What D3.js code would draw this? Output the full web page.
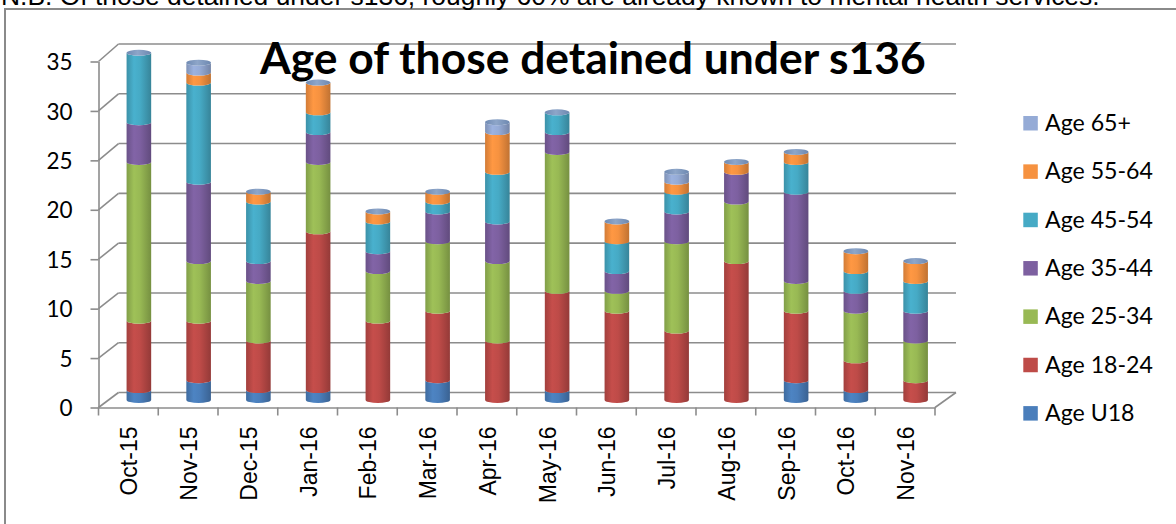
<!DOCTYPE html>
<html>
<head>
<meta charset="utf-8">
<script src="https://cdn.jsdelivr.net/npm/d3@7"></script>
<style>
  body { margin: 0; background: #fff; }
  svg { display: block; }
</style>
</head>
<body>
<svg id="chart" width="1176" height="524"></svg>
<script>
// Monthly counts of people detained under s136, split by age band
const months = ["Oct-15","Nov-15","Dec-15","Jan-16","Feb-16","Mar-16","Apr-16","May-16","Jun-16","Jul-16","Aug-16","Sep-16","Oct-16","Nov-16"];
const ageU18    = [1, 2, 1, 1, 0, 2, 0, 1, 0, 0, 0, 2, 1, 0];
const age18to24 = [7, 6, 5, 16, 8, 7, 6, 10, 9, 7, 14, 7, 3, 2];
const age25to34 = [16, 6, 6, 7, 5, 7, 8, 14, 2, 9, 6, 3, 5, 4];
const age35to44 = [4, 8, 2, 3, 2, 3, 4, 2, 2, 3, 3, 9, 2, 3];
const age45to54 = [7, 10, 6, 2, 3, 1, 5, 2, 3, 2, 0, 3, 2, 3];
const age55to64 = [0, 1, 1, 3, 1, 1, 4, 0, 2, 1, 1, 1, 2, 2];
const age65plus = [0, 1, 0, 0, 0, 0, 1, 0, 0, 1, 0, 0, 0, 0];
const seriesNames  = ["Age U18", "Age 18-24", "Age 25-34", "Age 35-44", "Age 45-54", "Age 55-64", "Age 65+"];
const seriesValues = [ageU18, age18to24, age25to34, age35to44, age45to54, age55to64, age65plus];
const seriesColors = ["#4A7EBB", "#BE4B48", "#98B954", "#7D60A0", "#46AAC5", "#F69240", "#95ABD6"];
const yTicks = [0, 5, 10, 15, 20, 25, 30, 35];
const titleText = "Age of those detained under s136";
const noteText = "N.B. Of those detained under s136, roughly 60% are already known to mental health services.";

// table for d3.stack
const rows = months.map((m, i) => {
  const r = { month: m };
  seriesNames.forEach((s, k) => { r[s] = seriesValues[k][i]; });
  return r;
});
const stacked = d3.stack().keys(seriesNames)(rows);

const svg = d3.select("#chart");
const defs = svg.append("defs");

// ---- geometry of the 3D box ----
const frontX0 = 98.5, frontX1 = 935, depthDX = 21;
const x = d3.scaleBand().domain(months).range([frontX0, frontX1]);
const yFront = d3.scaleLinear().domain([0, 35]).range([407.5, 61.5]);
const yBack  = d3.scaleLinear().domain([0, 35]).range([392.5, 44]);
const yMid = v => (yFront(v) + yBack(v)) / 2;
const gridColor = "#8c8c8c";

// outer frame
svg.append("rect")
  .attr("x", 5).attr("y", 9).attr("width", 1200).attr("height", 600)
  .attr("fill", "none").attr("stroke", "#8a8a8a").attr("stroke-width", 2);

// note line above the frame
const note = svg.append("text")
  .attr("x", 1).attr("y", 4.5)
  .attr("font-family", "Liberation Sans, Arial, sans-serif")
  .attr("font-size", 24).attr("fill", "#000")
  .text(noteText);
{
  const w = note.node().getComputedTextLength();
  note.attr("font-size", 24 * 1099 / w);
}

// back-wall gridlines and side-wall slants
const grid = svg.append("g").attr("stroke", gridColor).attr("stroke-width", 1.6).attr("fill", "none");
yTicks.forEach(t => {
  grid.append("line")
    .attr("x1", frontX0 + depthDX - 1).attr("y1", yBack(t))
    .attr("x2", frontX1 + depthDX).attr("y2", yBack(t));
  grid.append("line")
    .attr("x1", frontX0).attr("y1", yFront(t))
    .attr("x2", frontX0 + depthDX - 1).attr("y2", yBack(t));
});
// floor: right edge slant
grid.append("line")
  .attr("x1", frontX1).attr("y1", yFront(0))
  .attr("x2", frontX1 + depthDX).attr("y2", yBack(0));

// y axis on the front edge
const yAxisG = svg.append("g")
  .attr("transform", `translate(${frontX0},0)`)
  .call(d3.axisLeft(yFront).tickValues(yTicks).tickSize(8).tickSizeOuter(0).tickPadding(18));
yAxisG.select(".domain").attr("stroke", gridColor).attr("stroke-width", 1.6);
yAxisG.selectAll(".tick line").attr("stroke", gridColor).attr("stroke-width", 1.6);
yAxisG.selectAll(".tick text")
  .attr("font-family", "Lato, Carlito, sans-serif")
  .attr("font-size", 22.5).attr("fill", "#000")
  .attr("dy", "0.36em");

// x axis on the front floor edge
const xAxisG = svg.append("g")
  .attr("transform", `translate(0,${yFront(0)})`)
  .call(d3.axisBottom(x).tickSize(0).tickSizeOuter(0));
xAxisG.select(".domain").attr("stroke", gridColor).attr("stroke-width", 1.6);
xAxisG.selectAll(".tick text")
  .attr("font-family", "Liberation Sans, Arial, sans-serif")
  .attr("font-size", 23).attr("fill", "#000")
  .attr("text-anchor", "end")
  .attr("transform", "rotate(-90)")
  .attr("x", -19).attr("y", 1).attr("dy", "0.35em");
// category separator ticks
const sepG = svg.append("g").attr("stroke", gridColor).attr("stroke-width", 1.6);
months.concat([null]).forEach((m, i) => {
  const xp = m === null ? x.range()[1] : x(m);
  sepG.append("line")
    .attr("x1", xp).attr("x2", xp)
    .attr("y1", yFront(0)).attr("y2", yFront(0) + 8);
});

// ---- cylinder shading ----
seriesNames.forEach((s, k) => {
  const c = d3.color(seriesColors[k]);
  const g = defs.append("linearGradient").attr("id", "cyl" + k)
    .attr("x1", 0).attr("x2", 1).attr("y1", 0).attr("y2", 0);
  g.append("stop").attr("offset", "0%").attr("stop-color", c.darker(0.45));
  g.append("stop").attr("offset", "30%").attr("stop-color", c.brighter(0.12));
  g.append("stop").attr("offset", "55%").attr("stop-color", c);
  g.append("stop").attr("offset", "100%").attr("stop-color", c.darker(0.7));
});
const capGrad = defs.append("linearGradient").attr("id", "capGrad")
  .attr("x1", 0).attr("x2", 1).attr("y1", 0).attr("y2", 0);
capGrad.append("stop").attr("offset", "0%").attr("stop-color", "#6f8ab3");
capGrad.append("stop").attr("offset", "45%").attr("stop-color", "#8ea6c9");
capGrad.append("stop").attr("offset", "100%").attr("stop-color", "#6d88b0");

const r = 12.3, ry = 3;
const cxOf = m => x(m) + x.bandwidth() / 2 + depthDX / 2;
function segPath(cx, v0, v1) {
  const yt = yMid(v1), yb = yMid(v0);
  return `M${cx - r},${yt} L${cx - r},${yb} A${r},${ry} 0 0 0 ${cx + r},${yb} ` +
         `L${cx + r},${yt} A${r},${ry} 0 0 1 ${cx - r},${yt} Z`;
}

const bars = svg.append("g");
stacked.forEach((layer, k) => {
  bars.append("g")
    .selectAll("path")
    .data(layer.filter(d => d[1] > d[0]))
    .join("path")
    .attr("d", d => segPath(cxOf(d.data.month), d[0], d[1]))
    .attr("fill", `url(#cyl${k})`);
});
// top caps
const totals = rows.map(rw => ({ month: rw.month, total: d3.sum(seriesNames, s => rw[s]) }));
bars.append("g")
  .selectAll("ellipse")
  .data(totals)
  .join("ellipse")
  .attr("cx", d => cxOf(d.month))
  .attr("cy", d => yMid(d.total))
  .attr("rx", r).attr("ry", ry)
  .attr("fill", "url(#capGrad)");

// ---- title ----
const title = svg.append("text")
  .attr("x", 260).attr("y", 74)
  .attr("font-family", "Lato, Carlito, sans-serif")
  .attr("font-weight", "bold")
  .attr("font-size", 40).attr("fill", "#000")
  .text(titleText);
{
  const w = title.node().getComputedTextLength();
  title.attr("font-size", 40 * 666 / w);
}

// ---- legend (top item is the last series) ----
const legend = svg.append("g");
const legendItems = seriesNames.map((s, k) => ({ name: s, color: seriesColors[k] })).reverse();
const legendY0 = 123.3, legendStep = 48.35;
legendItems.forEach((it, i) => {
  const cy = legendY0 + i * legendStep;
  legend.append("rect")
    .attr("x", 1023.3).attr("y", cy - 7.3)
    .attr("width", 14.5).attr("height", 14.5)
    .attr("fill", it.color);
  legend.append("text")
    .attr("class", "lg")
    .attr("x", 1045).attr("y", cy + 7.6)
    .attr("font-family", "Lato, Carlito, sans-serif")
    .attr("font-size", 22).attr("fill", "#000")
    .text(it.name);
});
{
  const ref = legend.selectAll("text.lg").filter(function () { return this.textContent === "Age 55-64"; });
  const w = ref.node().getComputedTextLength();
  legend.selectAll("text.lg").attr("font-size", 22 * 108 / w);
}
</script>
</body>
</html>
